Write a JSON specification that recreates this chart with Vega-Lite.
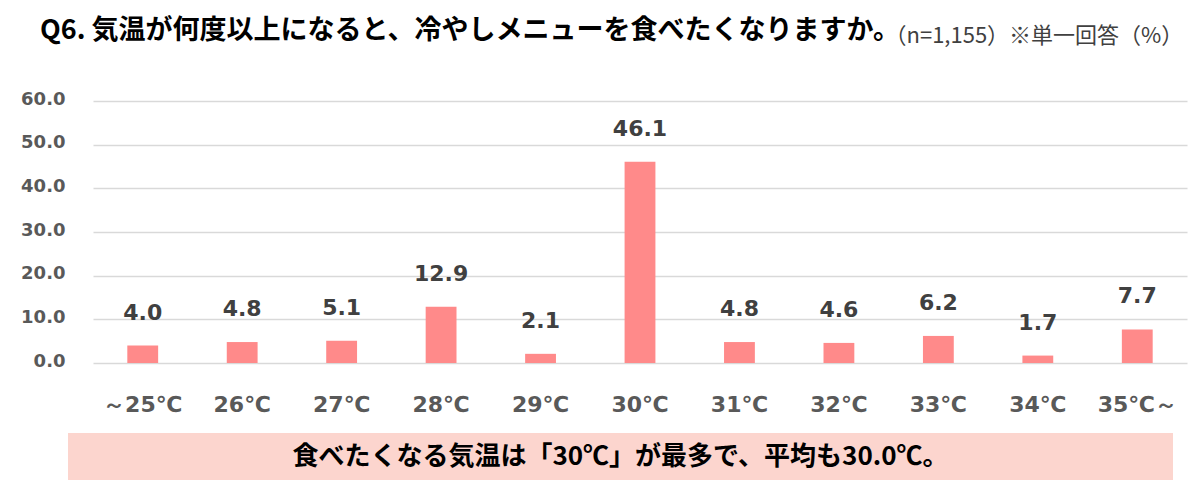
{
  "$schema": "https://vega.github.io/schema/vega-lite/v6.json",
  "padding": {"left": 20, "top": 17, "right": 0, "bottom": 0},
  "background": "white",
  "title": {
    "text": "Q6. 気温が何度以上になると、冷やしメニューを食べたくなりますか。",
    "anchor": "start",
    "frame": "bounds",
    "font": "Noto Sans CJK JP",
    "fontSize": 27,
    "fontWeight": "bold",
    "color": "#000000",
    "dx": 20,
    "offset": -42,
    "baseline": "alphabetic"
  },
  "config": {"view": {"stroke": null}, "font": "DejaVu Sans"},
  "spacing": 14,
  "center": true,
  "vconcat": [
    {
      "width": 1094,
      "height": 262,
      "data": {
        "values": [
          {"temp": "～25℃", "pct": 4.0},
          {"temp": "26℃", "pct": 4.8},
          {"temp": "27℃", "pct": 5.1},
          {"temp": "28℃", "pct": 12.9},
          {"temp": "29℃", "pct": 2.1},
          {"temp": "30℃", "pct": 46.1},
          {"temp": "31℃", "pct": 4.8},
          {"temp": "32℃", "pct": 4.6},
          {"temp": "33℃", "pct": 6.2},
          {"temp": "34℃", "pct": 1.7},
          {"temp": "35℃～", "pct": 7.7}
        ]
      },
      "encoding": {
        "x": {
          "field": "temp",
          "type": "nominal",
          "sort": null,
          "scale": {"paddingInner": 0.69, "paddingOuter": 0.345},
          "axis": {
            "title": null,
            "labelAngle": 0,
            "labelFont": "DejaVu Sans",
            "labelFontSize": 22,
            "labelFontWeight": "bold",
            "labelColor": "#595959",
            "labelPadding": 31,
            "labelBaseline": "top",
            "ticks": false,
            "domain": false,
            "grid": false,
            "minExtent": 56,
            "maxExtent": 56
          }
        },
        "y": {
          "field": "pct",
          "type": "quantitative",
          "scale": {"domain": [0, 60], "nice": false},
          "axis": {
            "values": [0, 10, 20, 30, 40, 50, 60],
            "format": ".1f",
            "title": "（n=1,155）※単一回答（%）",
            "titleAngle": 0,
            "titleX": 791,
            "titleY": -59,
            "titleAlign": "left",
            "titleBaseline": "alphabetic",
            "titleFont": "Noto Sans CJK JP",
            "titleFontSize": 22,
            "titleFontWeight": "normal",
            "titleColor": "#404040",
            "labelFont": "DejaVu Sans",
            "labelFontSize": 18,
            "labelFontWeight": "bold",
            "labelColor": "#595959",
            "labelPadding": 28,
            "labelOffset": -2,
            "ticks": false,
            "domain": false,
            "gridColor": "#D9D9D9",
            "gridWidth": 1.3,
            "minExtent": 73,
            "maxExtent": 73
          }
        }
      },
      "layer": [
        {"mark": {"type": "bar", "color": "#FF8A8A"}},
        {
          "mark": {
            "type": "text",
            "font": "DejaVu Sans",
            "fontSize": 22,
            "fontWeight": "bold",
            "color": "#404040",
            "baseline": "alphabetic",
            "dy": -26
          },
          "encoding": {"text": {"field": "pct", "type": "quantitative", "format": ".1f"}}
        }
      ]
    },
    {
      "width": 1105,
      "height": 47,
      "view": {"fill": "#FCD5CE", "stroke": null},
      "data": {"values": [{"note": "食べたくなる気温は「30℃」が最多で、平均も30.0℃。"}]},
      "mark": {
        "type": "text",
        "font": "Noto Sans CJK JP",
        "fontSize": 26,
        "fontWeight": "bold",
        "color": "#000000",
        "baseline": "middle"
      },
      "encoding": {
        "text": {"field": "note"},
        "y": {
          "field": "note",
          "type": "nominal",
          "axis": {
            "orient": "right",
            "title": null,
            "labels": false,
            "ticks": false,
            "domain": false,
            "grid": false,
            "minExtent": 39,
            "maxExtent": 39
          }
        }
      }
    }
  ]
}
